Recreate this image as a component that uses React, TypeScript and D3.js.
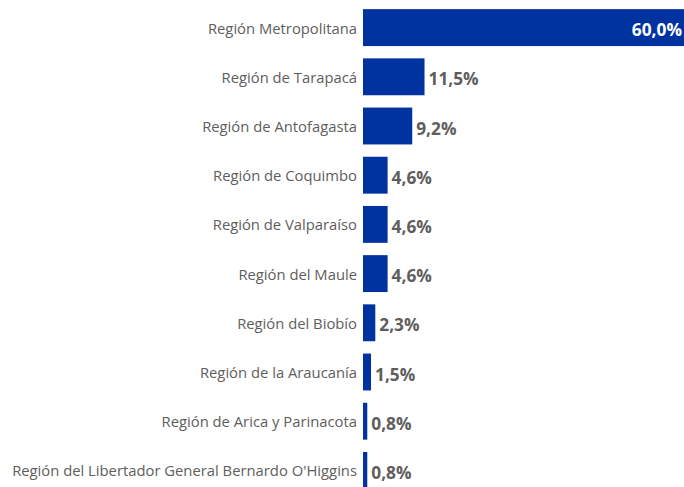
import React from "react";
import * as d3 from "d3";

const categories = [
  "Región Metropolitana",
  "Región de Tarapacá",
  "Región de Antofagasta",
  "Región de Coquimbo",
  "Región de Valparaíso",
  "Región del Maule",
  "Región del Biobío",
  "Región de la Araucanía",
  "Región de Arica y Parinacota",
  "Región del Libertador General Bernardo O'Higgins",
];
const values = [60.0, 11.5, 9.2, 4.6, 4.6, 4.6, 2.3, 1.5, 0.8, 0.8];

const W = 684;
const H = 487;
const X0 = 363;

export default function App() {
  const x = d3.scaleLinear().domain([0, 60]).range([X0, W]);
  const y = d3
    .scaleBand<string>()
    .domain(categories)
    .range([3, 495])
    .paddingInner(0.25)
    .paddingOuter(0.125);
  const fmt = (v: number) => v.toFixed(1).replace(".", ",") + "%";
  const font = "'Open Sans', 'Noto Sans', sans-serif";
  return (
    <svg
      width={W}
      height={H}
      style={{ position: "absolute", left: 0, top: 0, background: "#fff" }}
    >
      {categories.map((c, i) => {
        const v = values[i];
        const yy = y(c)!;
        const bw = y.bandwidth();
        const cy = yy + bw / 2;
        const xe = x(v);
        const inside = xe - X0 > 150;
        return (
          <g key={c}>
            <rect x={X0} y={yy} width={xe - X0} height={bw} fill="#0033A0" />
            <text
              x={357}
              y={cy}
              textAnchor="end"
              dominantBaseline="central"
              fontFamily={font}
              fontSize={14.8}
              fill="#605E5C"
            >
              {c}
            </text>
            <text
              x={inside ? xe - 2 : xe + 4}
              y={cy + 2}
              textAnchor={inside ? "end" : "start"}
              dominantBaseline="central"
              fontFamily={font}
              fontSize={17.3}
              fontWeight={700}
              fill={inside ? "#FFFFFF" : "#605E5C"}
            >
              {fmt(v)}
            </text>
          </g>
        );
      })}
    </svg>
  );
}
